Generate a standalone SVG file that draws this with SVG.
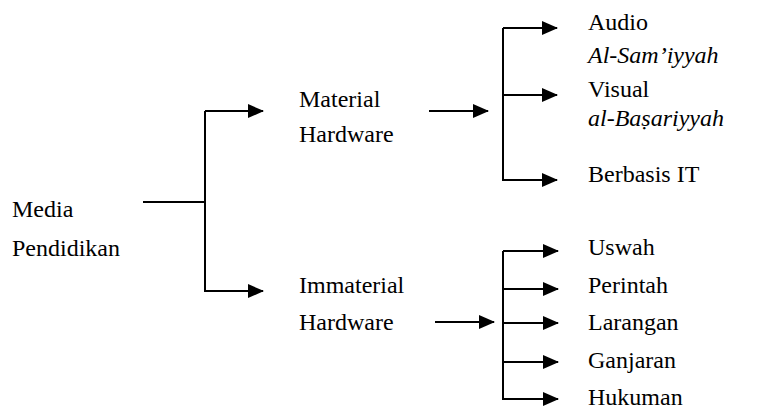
<svg xmlns="http://www.w3.org/2000/svg" width="775" height="410" viewBox="0 0 775 410">
<defs>
<marker id="ah" markerUnits="userSpaceOnUse" markerWidth="16" markerHeight="14" refX="15" refY="7" orient="auto">
<path d="M0,0 L16,7 L0,14 z" fill="#000"/>
</marker>
</defs>
<rect width="775" height="410" fill="#fff"/>
<g id="connectors" stroke="#000" stroke-width="2" fill="none">
<path d="M143,202 H205"/>
<path d="M205,111 V291 H263" marker-end="url(#ah)"/>
<path d="M205,111 H263" marker-end="url(#ah)"/>
<path d="M429,111 H488" marker-end="url(#ah)"/>
<path d="M503,28 V180 H557" marker-end="url(#ah)"/>
<path d="M503,28 H557" marker-end="url(#ah)"/>
<path d="M503,95 H557" marker-end="url(#ah)"/>
<path d="M435,322 H494" marker-end="url(#ah)"/>
<path d="M503,251 V399 H558" marker-end="url(#ah)"/>
<path d="M503,251 H558" marker-end="url(#ah)"/>
<path d="M503,289 H558" marker-end="url(#ah)"/>
<path d="M503,323 H558" marker-end="url(#ah)"/>
<path d="M503,362 H558" marker-end="url(#ah)"/>
</g>
<text id="media" x="12" y="217" font-family="Liberation Serif" font-size="24">Media<tspan x="12" y="256">Pendidikan</tspan></text>
<text id="material" x="299" y="107" font-family="Liberation Serif" font-size="24">Material<tspan x="299" y="142">Hardware</tspan></text>
<text id="immaterial" x="299" y="293" font-family="Liberation Serif" font-size="24">Immaterial<tspan x="299" y="330">Hardware</tspan></text>
<text id="audio" x="588" y="30" font-family="Liberation Serif" font-size="24">Audio<tspan x="588" y="63" font-style="italic">Al-Sam&#8217;iyyah</tspan></text>
<text id="visual" x="588" y="97" font-family="Liberation Serif" font-size="24">Visual<tspan x="588" y="126" font-style="italic">al-Ba&#7779;ariyyah</tspan></text>
<text id="it" x="588" y="182" font-family="Liberation Serif" font-size="24">Berbasis IT</text>
<text id="uswah" x="588" y="255" font-family="Liberation Serif" font-size="24">Uswah</text>
<text id="perintah" x="588" y="293" font-family="Liberation Serif" font-size="24">Perintah</text>
<text id="larangan" x="588" y="330" font-family="Liberation Serif" font-size="24">Larangan</text>
<text id="ganjaran" x="588" y="368" font-family="Liberation Serif" font-size="24">Ganjaran</text>
<text id="hukuman" x="588" y="405" font-family="Liberation Serif" font-size="24">Hukuman</text>
</svg>
